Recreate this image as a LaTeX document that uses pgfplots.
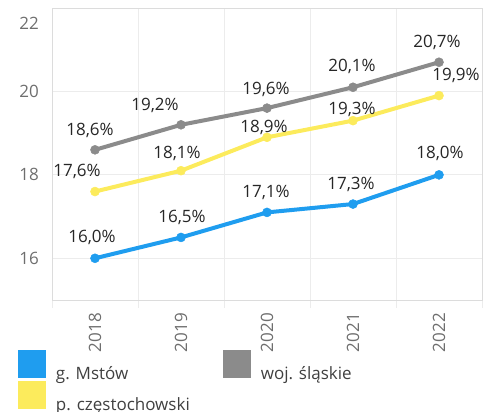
\documentclass[border=0pt]{standalone}
\usepackage{fontspec}
\setmainfont{Open Sans}
\usepackage{pgfplots}
\pgfplotsset{compat=1.18}
\definecolor{mblue}{HTML}{1F9DEF}
\definecolor{mgray}{HTML}{8B8B8B}
\definecolor{myel}{HTML}{FCEB5C}
\definecolor{gridc}{HTML}{ECECEC}
\definecolor{framec}{HTML}{DCDCDC}
\definecolor{tickc}{HTML}{6E6E6E}
\definecolor{labc}{HTML}{262626}
\definecolor{legc}{HTML}{404040}
\begin{document}
\begin{tikzpicture}
\path[use as bounding box] (0,0) rectangle (491bp,412bp);
\begin{axis}[
  at={(52bp,112bp)}, anchor=south west,
  scale only axis, width=430bp, height=292bp,
  xmin=-0.5, xmax=4.5, ymin=15, ymax=22,
  xtick={0,...,4}, xticklabels={2018,2019,2020,2021,2022},
  minor xtick={-0.5,0.5,...,4.5},
  xminorgrids, ymajorgrids,
  ytick={16,18,20,22},
  yticklabels={16,18,20,\raisebox{-21bp}[0pt][0pt]{22}},
  /pgf/number format/assume math mode=true,
  tick pos=left,
  tick align=outside,
  major tick length=0pt,
  minor tick length=8bp,
  axis line style={draw=framec, line width=1bp},
  grid style={draw=gridc, line width=1bp},
  minor grid style={draw=gridc, line width=1bp},
  minor tick style={draw=gridc, line width=1bp},
  ticklabel style={font=\fontsize{17bp}{20bp}\selectfont, text=tickc},
  xticklabel style={rotate=90, anchor=east, inner sep=0pt},
  xticklabel shift=13bp,
  yticklabel style={inner sep=0pt},
  yticklabel shift=13bp,
  clip=false,
  point meta=explicit symbolic,
  nodes near coords={\pgfplotspointmeta\%},
  visualization depends on={\thisrow{dx} \as \dx},
  visualization depends on={\thisrow{dy} \as \dy},
  nodes near coords style={anchor=center, inner sep=0pt, text=labc,
    font=\fontsize{17bp}{20bp}\selectfont, xshift=\dx bp, yshift=\dy bp},
  legend columns=2,
  legend cell align=left,
  legend style={at={(-0.0791,-0.171)}, anchor=north west, draw=none, fill=none,
    inner sep=0pt, outer sep=0pt, row sep=0bp,
    font=\fontsize{17bp}{20bp}\selectfont, text=legc,
    nodes={inner sep=0pt},
    /tikz/every odd column/.append style={column sep=10bp},
    /tikz/every even column/.append style={column sep=33bp}},
]
\addplot[mblue, line width=4bp, mark=*, mark size=4.5bp,
  mark options={fill=mblue, draw=mblue, line width=0.5bp},
  legend image code/.code={\fill[mblue] (0bp,-2bp) rectangle (24bp,22bp);}]
  table[x=x, y=y, meta=lab] {
x y lab dx dy
0 16.0 16,0 -3 21
1 16.5 16,5 1 20
2 17.1 17,1 -1 20
3 17.3 17,3 -2 20
4 18.0 18,0 1 21
};
\addlegendentry{g. Mstów}
\addplot[mgray, line width=4bp, mark=*, mark size=4.5bp,
  mark options={fill=mgray, draw=mgray, line width=0.5bp},
  legend image code/.code={\fill[mgray] (0bp,-2bp) rectangle (24bp,22bp);}]
  table[x=x, y=y, meta=lab] {
x y lab dx dy
0 18.6 18,6 -5 19
1 19.2 19,2 -26 19
2 19.6 19,6 -1 19
3 20.1 20,1 -1 21
4 20.7 20,7 -2 20
};
\addlegendentry{woj. śląskie}
\addplot[myel, line width=4bp, mark=*, mark size=4.5bp,
  mark options={fill=myel, draw=myel, line width=0.5bp},
  legend image code/.code={\fill[myel] (0bp,-2bp) rectangle (24bp,22bp);}]
  table[x=x, y=y, meta=lab] {
x y lab dx dy
0 17.6 17,6 -18 20
1 18.1 18,1 -4 17
2 18.9 18,9 -3 10
3 19.3 19,3 -1 11
4 19.9 19,9 17 20
};
\addlegendentry{p. częstochowski}
\end{axis}
\end{tikzpicture}
\end{document}
